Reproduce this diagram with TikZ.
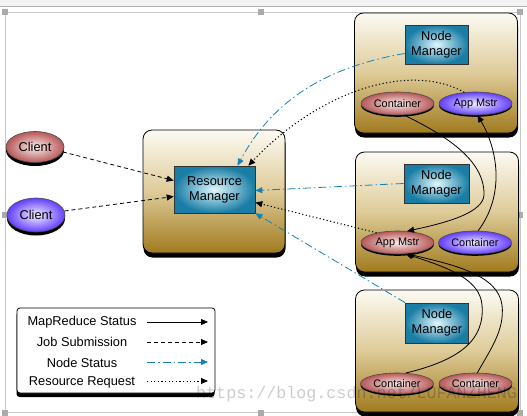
\documentclass[tikz,border=0pt]{standalone}
\usepackage{fontspec}
\setmainfont{Liberation Sans}
\newfontfamily\wmfont{Liberation Mono}
\usepackage{tikz}
\usetikzlibrary{shapes.geometric}
\usetikzlibrary{shadows}
\usetikzlibrary{arrows.meta}
\definecolor{hosttop}{RGB}{252,250,243}
\definecolor{hostmid}{RGB}{222,203,152}
\definecolor{hostbot}{RGB}{160,122,30}
\definecolor{mgrlight}{RGB}{225,247,253}
\definecolor{mgrdark}{RGB}{25,125,165}
\definecolor{redlight}{RGB}{252,238,238}
\definecolor{reddark}{RGB}{182,88,88}
\definecolor{viollight}{RGB}{243,240,255}
\definecolor{violdark}{RGB}{100,62,255}
\definecolor{statblue}{RGB}{20,130,185}
\begin{document}
\begin{tikzpicture}[x=1pt,y=-1pt,
  hostbox/.style={draw=black,line width=0.8pt,rounded corners=9pt,
    top color=hosttop,bottom color=hostbot,middle color=hostmid,
    minimum width=163pt,minimum height=120pt,
    drop shadow={shadow xshift=0.5pt,shadow yshift=-4.5pt,opacity=1,fill=black}},
  mgrbox/.style={draw=black!80,line width=0.6pt,inner color=mgrlight,outer color=mgrdark,
    align=center,font=\fontsize{12.8}{15}\selectfont,inner sep=0pt,
    minimum width=63pt,minimum height=39pt},
  redell/.style={ellipse,draw=black!70,line width=0.6pt,inner color=redlight,outer color=reddark,
    inner sep=0pt,minimum width=73pt,minimum height=23pt,font=\fontsize{10.9}{12}\selectfont,
    drop shadow={shadow xshift=0pt,shadow yshift=-1.8pt,opacity=1,fill=black}},
  violell/.style={redell,inner color=viollight,outer color=violdark},
  clientell/.style={minimum width=58pt,font=\fontsize{12.8}{15}\selectfont,
    drop shadow={shadow xshift=0pt,shadow yshift=-3.5pt,opacity=1,fill=black}},
  mrstat/.style={draw=black,line width=0.8pt,-{Triangle[length=7pt,width=6pt]}},
  jobsub/.style={mrstat,dash pattern=on 4pt off 3pt},
  nodestat/.style={mrstat,draw=statblue,dash pattern=on 8pt off 3pt on 1.5pt off 3pt},
  resreq/.style={mrstat,line width=1pt,dash pattern=on 1.2pt off 2.4pt},
  legendbox/.style={draw=black,line width=0.8pt,rounded corners=3pt,fill=white,
    minimum width=198pt,minimum height=85pt,
    drop shadow={shadow xshift=-0.5pt,shadow yshift=-4pt,opacity=1,fill=black}},
  legtext/.style={font=\fontsize{12.8}{15}\selectfont},
  grip/.style={fill=black!33}]
  \useasboundingbox (0,0) rectangle (527,415);
  \fill[black!5] (0,0) rectangle (527,6);
  \draw[line width=1.5pt,black!30] (0,6.5) -- (527,6.5);
  \draw[line width=0.5pt,black!22] (5,12) rectangle (520,412);
  \fill[grip] (2,9) rectangle (8,15);
  \fill[grip] (258,9) rectangle (264,15);
  \fill[grip] (517,9) rectangle (523,15);
  \fill[grip] (2,212) rectangle (8,218);
  \fill[grip] (517,212) rectangle (523,218);
  \fill[grip] (2,410) rectangle (8,416);
  \fill[grip] (258,410) rectangle (264,416);
  \fill[grip] (517,410) rectangle (523,416);

  \node[hostbox] (hostA) at (436,73) {};
  \node[hostbox] (hostB) at (437,212) {};
  \node[hostbox,minimum height=122pt] (hostC) at (437,351) {};
  \node[hostbox,minimum width=142pt,minimum height=123pt] (rmhost) at (214,191.5) {};

  \node[mgrbox] (nmA) at (436.5,44.5) {Node\\Manager};
  \node[mgrbox,minimum width=65pt] (nmB) at (436.5,183.5) {Node\\Manager};
  \node[mgrbox,minimum height=40pt] (nmC) at (437,323) {Node\\Manager};
  \node[mgrbox,minimum width=81pt,minimum height=47pt] (rm) at (214.5,189.5) {Resource\\Manager};

  \node[redell] (contA) at (397.5,103.5) {Container};
  \node[violell] (amA) at (475.5,103.5) {App Mstr};
  \node[redell] (amB) at (397.5,242.5) {App Mstr};
  \node[violell] (contB) at (475,242.5) {Container};
  \node[redell,minimum height=21pt] (contC1) at (397,383.5) {Container};
  \node[redell,minimum height=21pt] (contC2) at (475.5,383.5) {Container};

  \node[redell,clientell,minimum height=31pt] (clientA) at (35,147) {Client};
  \node[violell,clientell,minimum height=34pt] (clientB) at (36,215) {Client};

  \draw[jobsub] (clientA.-10) -- ([yshift=9pt]rm.west);
  \draw[jobsub] (clientB.8) -- ([yshift=-7pt]rm.west);

  \draw[nodestat] ([yshift=-9pt]nmA.west) .. controls (320,68) and (270,105) .. ([xshift=23pt]rm.north);
  \draw[nodestat] (nmB.west) -- ([yshift=-1pt]rm.east);
  \draw[nodestat] (nmC.north west) -- (rm.south east);

  \draw[resreq] (amA.135) .. controls (410,62) and (320,90) .. ([xshift=-7pt]rm.north east);
  \draw[resreq] (amB.155) -- ([yshift=-13pt]rm.east);

  \draw[mrstat] (contA.-60) .. controls (445,135) and (485,160) .. (484,195) .. controls (483,212) and (450,222) .. (amB.50);
  \draw[mrstat] (contB.75) .. controls (505,195) and (498,150) .. (amA.-80);
  \draw[mrstat] (contC1.50) .. controls (460,360) and (485,340) .. (482,305) .. controls (480,280) and (450,268) .. (amB.-55);
  \draw[mrstat] (contC2.80) .. controls (490,350) and (505,330) .. (502,305) .. controls (498,275) and (455,265) .. (amB.-50);

  \node[legendbox] (legend) at (116,350.5) {};
  \node[legtext] (lgmr) at (82,322) {MapReduce Status};
  \node[legtext] (lgjob) at (82,342) {Job Submission};
  \node[legtext] (lgnode) at (82,363) {Node Status};
  \node[legtext] (lgres) at (82,382) {Resource Request};
  \coordinate (mrA) at (147,322);
  \coordinate (mrB) at (208,322);
  \coordinate (jobA) at (147,342);
  \coordinate (jobB) at (208,342);
  \coordinate (nodeA) at (147,362);
  \coordinate (nodeB) at (208,362);
  \coordinate (resA) at (147,381);
  \coordinate (resB) at (208,381);
  \draw[mrstat] (mrA) -- (mrB);
  \draw[jobsub] (jobA) -- (jobB);
  \draw[nodestat] (nodeA) -- (nodeB);
  \draw[resreq] (resA) -- (resB);

  \node[anchor=base west,inner sep=0pt,font=\wmfont\fontsize{16.7}{18}\selectfont,text=black,opacity=0.2] (wmark) at (196,398) {https://blog.csdn.net/LUFANZHENG};
\end{tikzpicture}
\end{document}
